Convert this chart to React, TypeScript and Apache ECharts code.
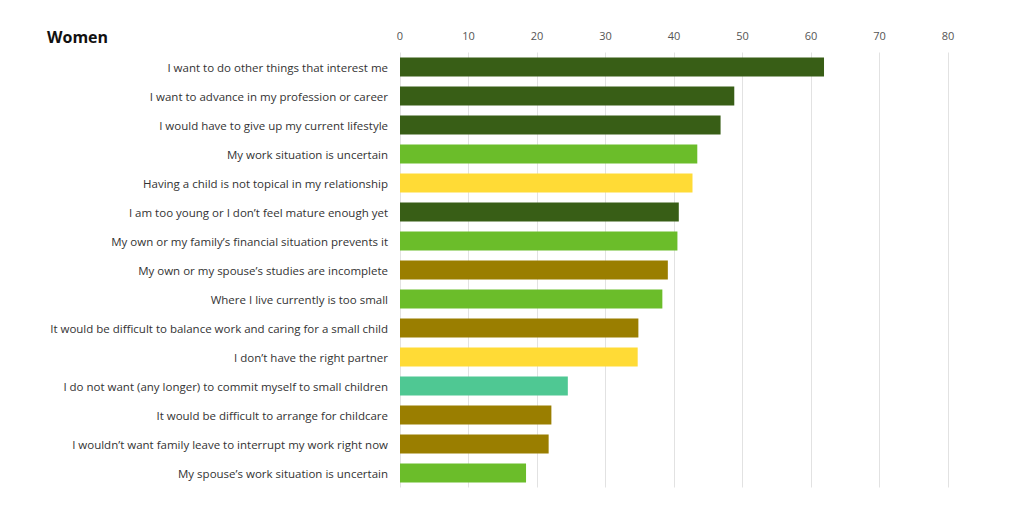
import React, { useEffect, useRef } from "react";
import * as echarts from "echarts";

const categories = [
  "I want to do other things that interest me",
  "I want to advance in my profession or career",
  "I would have to give up my current lifestyle",
  "My work situation is uncertain",
  "Having a child is not topical in my relationship",
  "I am too young or I don’t feel mature enough yet",
  "My own or my family’s financial situation prevents it",
  "My own or my spouse’s studies are incomplete",
  "Where I live currently is too small",
  "It would be difficult to balance work and caring for a small child",
  "I don’t have the right partner",
  "I do not want (any longer) to commit myself to small children",
  "It would be difficult to arrange for childcare",
  "I wouldn’t want family leave to interrupt my work right now",
  "My spouse’s work situation is uncertain",
];

const values = [61.9, 48.8, 46.8, 43.4, 42.7, 40.7, 40.5, 39.1, 38.3, 34.8, 34.7, 24.5, 22.1, 21.7, 18.4];

const groups = ["dark", "dark", "dark", "light", "yellow", "dark", "light", "olive", "light", "olive", "yellow", "teal", "olive", "olive", "light"];

const palette: Record<string, string> = {
  dark: "#385e16",
  light: "#6bbd2a",
  yellow: "#ffdb36",
  olive: "#9a7e00",
  teal: "#4fc893",
};

const xTicks = [0, 10, 20, 30, 40, 50, 60, 70, 80];

export default function App() {
  const ref = useRef<HTMLDivElement>(null);
  useEffect(() => {
    if (!ref.current) return;
    const chart = echarts.init(ref.current, undefined, { renderer: "svg" });
    chart.setOption({
      animation: false,
      title: {
        text: "Women",
        left: 42,
        top: 24,
        textStyle: { fontFamily: "Open Sans", fontSize: 16, fontWeight: "bold", color: "#111" },
      },
      grid: { left: 400, right: 76, top: 52.5, height: 435, containLabel: false },
      xAxis: {
        type: "value",
        position: "top",
        min: xTicks[0],
        max: xTicks[xTicks.length - 1],
        interval: 10,
        axisLine: { show: false },
        axisTick: { show: false },
        axisLabel: { color: "#555", fontFamily: "Open Sans", fontSize: 11, margin: 12 },
        splitLine: { show: true, lineStyle: { color: "#e2e2e2", width: 1 } },
      },
      yAxis: {
        type: "category",
        data: categories,
        inverse: true,
        axisLine: { show: false },
        axisTick: { show: false },
        axisLabel: { color: "#333", fontFamily: "Open Sans", fontSize: 11.5, margin: 12 },
      },
      series: [
        {
          type: "bar",
          data: values.map((v, i) => ({ value: v, itemStyle: { color: palette[groups[i]] } })),
          barCategoryGap: "34%",
        },
      ],
    });
    return () => chart.dispose();
  }, []);
  return <div ref={ref} style={{ position: "absolute", left: 0, top: 0, width: 1024, height: 518 }} />;
}
